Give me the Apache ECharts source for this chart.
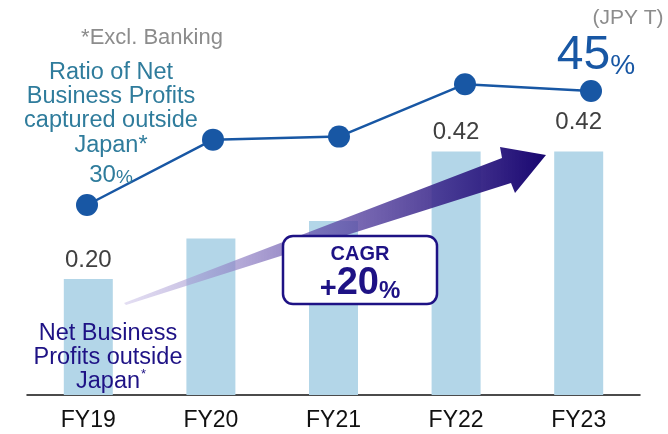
<!DOCTYPE html>
<html>
<head>
<meta charset="utf-8">
<script src="https://cdn.jsdelivr.net/npm/echarts@6/dist/echarts.min.js"></script>
<style>
  html, body { margin: 0; padding: 0; background: #fff; }
  #main { width: 668px; height: 434px; }
</style>
</head>
<body>
<div id="main"></div>
<script>
// data
var years = ['FY19', 'FY20', 'FY21', 'FY22', 'FY23'];
var profits = [0.20, 0.27, 0.30, 0.42, 0.42];          // JPY T
var ratio = [30, 38.6, 39, 45.9, 45];                    // % captured outside Japan
var profitLabels = ['0.20', '', '', '0.42', '0.42'];

var FONT = 'Liberation Sans, Arial, sans-serif';
var barColor = '#b3d6e8';
var lineColor = '#1857a4';
var navy = '#1e1285';
var teal = '#2f7c9c';
var gray = '#8c8c8c';

var chart = echarts.init(document.getElementById('main'));

var barData = profits.map(function (v, i) {
    var item = { value: v };
    if (profitLabels[i]) {
        item.label = {
            show: true, position: 'top', distance: i == 4 ? 17 : 7,
            formatter: profitLabels[i], color: '#404040', fontSize: 24, fontFamily: FONT
        };
    }
    return item;
});

var option = {
    animation: false,
    grid: [
        { left: 27, right: 28, top: 47, bottom: 39 },
        { left: 24, right: 14, top: 53, bottom: 153 }
    ],
    xAxis: [
        {
            type: 'category', data: years, gridIndex: 0,
            axisLine: { lineStyle: { color: '#111', width: 1.5 } },
            axisTick: { show: false },
            axisLabel: { color: '#111', fontSize: 23, fontFamily: FONT, margin: 14 }
        },
        {
            type: 'category', data: years, gridIndex: 1, show: false
        }
    ],
    yAxis: [
        { type: 'value', gridIndex: 0, min: 0, max: 0.6, show: false, splitLine: { show: false } },
        { type: 'value', gridIndex: 1, min: 20, max: 50, show: false, splitLine: { show: false } }
    ],
    series: [
        {
            type: 'bar', xAxisIndex: 0, yAxisIndex: 0, data: barData,
            barWidth: 49, itemStyle: { color: barColor }, z: 1
        },
        {
            type: 'line', xAxisIndex: 1, yAxisIndex: 1, data: ratio,
            symbol: 'circle', symbolSize: 22,
            lineStyle: { color: lineColor, width: 2.5 },
            itemStyle: { color: lineColor }, z: 3
        }
    ],
    graphic: {
        elements: [
            // growth arrow
            {
                type: 'polygon', z: 5,
                shape: { points: [[124, 303], [502, 158], [500, 147], [546, 155], [515, 193], [511, 183], [126, 305]] },
                style: {
                    fill: {
                        type: 'linear', x: 0, y: 0, x2: 1, y2: 0,
                        colorStops: [
                            { offset: 0, color: 'rgba(200,190,230,0.5)' },
                            { offset: 0.45, color: 'rgba(100,80,170,0.75)' },
                            { offset: 1, color: 'rgba(24,6,112,1)' }
                        ]
                    }
                }
            },
            // CAGR box
            {
                type: 'rect', z: 6,
                shape: { x: 283, y: 236, width: 154, height: 68, r: 10 },
                style: { fill: '#fff', stroke: navy, lineWidth: 2.5 }
            },
            {
                type: 'text', z: 7, x: 360, y: 254,
                style: { text: 'CAGR', fill: navy, font: 'bold 20px ' + FONT, textAlign: 'center', textVerticalAlign: 'middle' }
            },
            {
                type: 'text', z: 7, x: 360, y: 284,
                style: {
                    text: '{p|+}{n|20}{q|%}', textAlign: 'center', textVerticalAlign: 'middle',
                    rich: {
                        p: { fill: navy, font: 'bold 29px ' + FONT, verticalAlign: 'bottom' },
                        n: { fill: navy, font: 'bold 38px ' + FONT, verticalAlign: 'bottom' },
                        q: { fill: navy, font: 'bold 24px ' + FONT, verticalAlign: 'bottom' }
                    }
                }
            },
            // notes
            {
                type: 'text', z: 7, x: 152, y: 38,
                style: { text: '*Excl. Banking', fill: gray, font: '22px ' + FONT, textAlign: 'center', textVerticalAlign: 'middle' }
            },
            {
                type: 'text', z: 7, x: 628, y: 18,
                style: { text: '(JPY T)', fill: gray, font: '21px ' + FONT, textAlign: 'center', textVerticalAlign: 'middle' }
            },
            {
                type: 'text', z: 7, x: 111, y: 60,
                style: {
                    text: 'Ratio of Net\nBusiness Profits\ncaptured outside\nJapan*',
                    fill: teal, font: '23.5px ' + FONT, lineHeight: 24.3, textAlign: 'center', textVerticalAlign: 'top'
                }
            },
            {
                type: 'text', z: 7, x: 111, y: 175,
                style: {
                    text: '{n|30}{p|%}', textAlign: 'center', textVerticalAlign: 'middle',
                    rich: {
                        n: { fill: teal, font: '24px ' + FONT, verticalAlign: 'bottom' },
                        p: { fill: teal, font: '19px ' + FONT, verticalAlign: 'bottom' }
                    }
                }
            },
            {
                type: 'text', z: 7, x: 596, y: 56,
                style: {
                    text: '{n|45}{p|%}', textAlign: 'center', textVerticalAlign: 'middle',
                    rich: {
                        n: { fill: lineColor, font: '48px ' + FONT, verticalAlign: 'bottom' },
                        p: { fill: lineColor, font: '28px ' + FONT, verticalAlign: 'bottom' }
                    }
                }
            },
            {
                type: 'text', z: 7, x: 108, y: 322,
                style: {
                    text: 'Net Business\nProfits outside\nJapan',
                    fill: navy, font: '23.5px ' + FONT, lineHeight: 24, textAlign: 'center', textVerticalAlign: 'top'
                }
            },
            {
                type: 'text', z: 7, x: 141, y: 368,
                style: { text: '*', fill: navy, font: '13px ' + FONT, textAlign: 'left', textVerticalAlign: 'top' }
            }
        ]
    }
};

chart.setOption(option);
</script>
</body>
</html>
